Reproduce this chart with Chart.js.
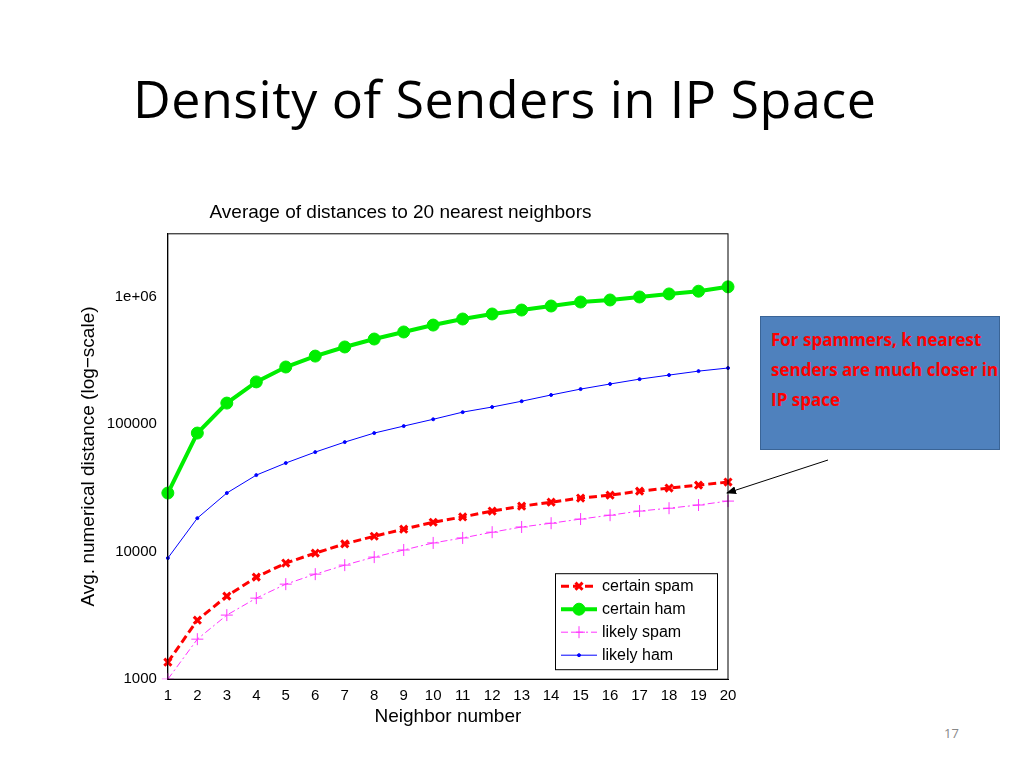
<!DOCTYPE html>
<html>
<head>
<meta charset="utf-8">
<script src="https://cdn.jsdelivr.net/npm/chart.js@4/dist/chart.umd.min.js"></script>
<style>
  body { margin: 0; background: #fff; width: 1024px; height: 768px; position: relative; overflow: hidden; font-family: "Open Sans", "Liberation Sans", sans-serif; }
  #title { position: absolute; left: 133px; top: 62px; font-size: 52px; letter-spacing: 0.5px; color: #000; }
  #chartBox { position: absolute; left: 73px; top: 201px; width: 675px; height: 527px; }
  #note { position: absolute; left: 760px; top: 316px; width: 228px; height: 116px; background: #4f81bd; border: 1px solid #3a6496;
          color: #ff0000; font-weight: bold; font-size: 17px; line-height: 30px; padding: 8px 0 8px 10px; }
  #page { position: absolute; left: 944px; top: 724px; font-size: 13px; color: #888; }
  svg { position: absolute; left: 0; top: 0; }
</style>
</head>
<body>
<div id="title">Density of Senders in IP Space</div>
<div id="chartBox"><canvas id="chart"></canvas></div>
<div id="note">For spammers, k nearest senders are much closer in IP space</div>
<div id="page">17</div>
<svg width="1024" height="768">
  <defs><marker id="ah" markerWidth="10" markerHeight="8" refX="9" refY="4" orient="auto">
    <path d="M0,0 L10,4 L0,8 z" fill="#000"/></marker></defs>
  <line x1="828" y1="460" x2="727" y2="493" stroke="#000" stroke-width="1" marker-end="url(#ah)"/>
</svg>
<script>
// valeurs
const neighbors = [1,2,3,4,5,6,7,8,9,10,11,12,13,14,15,16,17,18,19,20];
const certainSpam = [1360,2900,4480,6310,8130,9730,11500,13200,15000,17000,18700,20800,22700,24400,26300,27700,29800,31500,33200,35100];
const certainHam = [28800,85000,146000,214000,280000,341000,402000,464000,527000,597000,666000,729000,783000,842000,905000,939000,991000,1047000,1100000,1190000];
const likelySpam = [1000,2060,3180,4320,5560,6660,7840,9060,10300,11700,12800,14200,15600,16700,18000,19300,20800,21900,23200,24900];
const likelyHam = [8900,18300,28800,39800,49500,60300,72200,85000,96400,109000,124000,136000,151000,169000,188000,206000,225000,242000,260000,275000];
const yTicks = [1000, 10000, 100000, 1000000];

const font = { family: "'Liberation Sans', Arial, sans-serif", size: 15 };

// légende dessinée dans la zone du graphique, en bas à droite
const innerLegend = {
  id: 'innerLegend',
  afterDraw(chart) {
    const ctx = chart.ctx, a = chart.chartArea;
    const w = 162, h = 96, x = a.right - w - 11, y = a.bottom - h - 10;
    ctx.save();
    ctx.fillStyle = '#fff'; ctx.fillRect(x, y, w, h);
    ctx.strokeStyle = '#000'; ctx.lineWidth = 1; ctx.strokeRect(x + 0.5, y + 0.5, w, h);
    ctx.font = "16px 'Liberation Sans', Arial, sans-serif";
    ctx.textBaseline = 'middle';
    chart.data.datasets.forEach((ds, i) => {
      const cy = y + 13 + i * 23;
      ctx.strokeStyle = ds.borderColor; ctx.lineWidth = ds.borderWidth;
      ctx.setLineDash(ds.borderDash || []);
      ctx.beginPath(); ctx.moveTo(x + 6, cy); ctx.lineTo(x + 42, cy); ctx.stroke();
      ctx.setLineDash([]);
      ctx.fillStyle = ds.pointBackgroundColor; ctx.strokeStyle = ds.borderColor;
      ctx.lineWidth = ds.pointBorderWidth || 1;
      Chart.helpers.drawPoint(ctx, { pointStyle: ds.pointStyle, radius: ds.pointRadius, borderWidth: ds.pointBorderWidth || 1 }, x + 24, cy);
      ctx.fillStyle = '#000';
      ctx.fillText(ds.label, x + 47, cy);
    });
    ctx.restore();
  }
};

new Chart(document.getElementById('chart'), {
  type: 'line',
  data: {
    labels: neighbors,
    datasets: [
      { label: 'certain spam', data: certainSpam, borderColor: '#ff0000', backgroundColor: '#ff0000', pointBackgroundColor: '#ff0000',
        borderWidth: 3, borderDash: [8, 4], pointStyle: 'crossRot', pointRadius: 5, pointBorderWidth: 3 },
      { label: 'certain ham', data: certainHam, borderColor: '#00ee00', backgroundColor: '#00ee00', pointBackgroundColor: '#00ee00',
        borderWidth: 4, pointStyle: 'circle', pointRadius: 6, pointBorderWidth: 1 },
      { label: 'likely spam', data: likelySpam, borderColor: '#ff33ff', backgroundColor: '#ff33ff', pointBackgroundColor: '#ff33ff',
        borderWidth: 1, borderDash: [7, 3, 2, 3], pointStyle: 'cross', pointRadius: 6, pointBorderWidth: 1 },
      { label: 'likely ham', data: likelyHam, borderColor: '#0000ff', backgroundColor: '#0000ff', pointBackgroundColor: '#0000ff',
        borderWidth: 1, pointStyle: 'circle', pointRadius: 1.5, pointBorderWidth: 1 }
    ]
  },
  options: {
    responsive: true,
    maintainAspectRatio: false,
    animation: false,
    layout: { padding: { top: 0, right: 20, bottom: 0, left: 0 } },
    scales: {
      x: {
        offset: false,
        grid: { display: false, drawTicks: true },
        border: { display: true, color: '#000' },
        ticks: { color: '#000', font: font, maxRotation: 0, autoSkip: false, padding: 0 },
        title: { display: true, text: 'Neighbor number', color: '#000', font: { ...font, size: 19 }, padding: 0 }
      },
      y: {
        type: 'logarithmic',
        min: 1000, max: 3100000,
        afterBuildTicks(axis) { axis.ticks = yTicks.map(v => ({ value: v })); },
        grid: { display: false },
        border: { display: true, color: '#000' },
        ticks: { color: '#000', font: font, callback: v => v === 1000000 ? '1e+06' : String(v) },
        title: { display: true, text: 'Avg. numerical distance (log\u2212scale)', color: '#000', font: { ...font, size: 19 } }
      }
    },
    plugins: {
      legend: { display: false },
      tooltip: { enabled: false },
      title: { display: true, text: 'Average of distances to 20 nearest neighbors', color: '#000', font: { ...font, size: 19, weight: 'normal' }, padding: { top: 0, bottom: 10 } }
    }
  },
  plugins: [innerLegend, {
    id: 'frame',
    afterDraw(chart) {
      const c = chart.ctx, a = chart.chartArea;
      c.save(); c.strokeStyle = '#000'; c.lineWidth = 1;
      c.strokeRect(a.left, a.top, a.right - a.left, a.bottom - a.top);
      c.restore();
    }
  }]
});
</script>
</body>
</html>
